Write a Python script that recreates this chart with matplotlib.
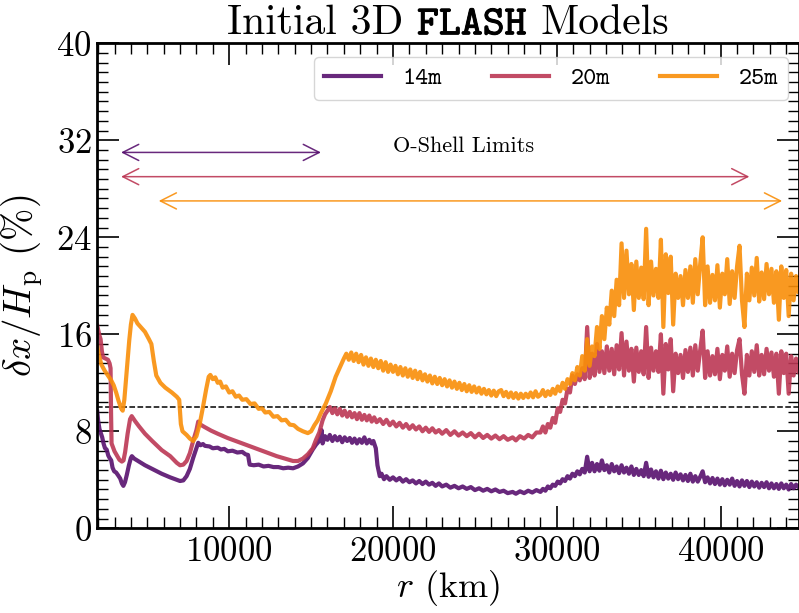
import matplotlib
matplotlib.use("Agg")
import matplotlib.pyplot as plt
import matplotlib.patheffects as pe
from matplotlib.ticker import AutoMinorLocator, MultipleLocator
from matplotlib.offsetbox import TextArea, HPacker, AnchoredOffsetbox

plt.rcParams.update({
    "font.family": "cmr10",
    "mathtext.fontset": "cm",
    "axes.unicode_minus": False,
    "axes.formatter.use_mathtext": True,
})

# ---------------------------------------------------------------------------
# Resolution (percent of pressure scale height) vs radius, per progenitor
# ---------------------------------------------------------------------------
labels = ["14m", "20m", "25m"]

# shared radial samples across the outer, noisy part of the shell (km)
r_tail = [29000, 29150, 29300, 29450, 29600, 29750, 29900, 30050, 30200, 30350,
          30500, 30650, 30800, 30950, 31100, 31250, 31400, 31550, 31700, 31850,
          32000, 32150, 32300, 32450, 32600, 32750, 32900, 33050, 33200, 33350,
          33500, 33650, 33800, 33950, 34100, 34250, 34400, 34550, 34700, 34850,
          35000, 35150, 35300, 35450, 35600, 35750, 35900, 36050, 36200, 36350,
          36500, 36650, 36800, 36950, 37100, 37250, 37400, 37550, 37700, 37850,
          38000, 38150, 38300, 38450, 38600, 38750, 38900, 39050, 39200, 39350,
          39500, 39650, 39800, 39950, 40100, 40250, 40400, 40550, 40700, 40850,
          41000, 41150, 41300, 41450, 41600, 41750, 41900, 42050, 42200, 42350,
          42500, 42650, 42800, 42950, 43100, 43250, 43400, 43550, 43700, 43850,
          44000, 44150, 44300, 44450, 44600, 44750]

# 14 M_sun model
r14_inner = [1950, 2000, 2080, 2150, 2250, 2330, 2420, 2520, 2620, 2700, 2800, 2880,
             2980, 3100, 3230, 3350, 3450, 3540, 3640, 3750, 3880, 4000, 4060, 4200,
             4500, 4860, 5300, 5880, 6400, 6800, 7000, 7200, 7400, 7600, 7800, 8000,
             8110, 8250, 8400, 8520, 8800, 9000, 9300, 9500, 9700, 9920, 10200, 10500,
             10800, 11000, 11150, 11250, 11500, 11800, 12100, 12400, 12700, 13000,
             13300, 13600, 13900, 14200, 14500, 14800, 15100, 15300, 15430, 15550,
             15640, 15700, 15850, 16000, 16140, 16300, 16450, 16600, 16750, 16900,
             17050, 17200, 17360, 17500, 17650, 17800, 17950, 18100, 18250, 18400,
             18550, 18700, 18800, 18950, 19050, 19190, 19300, 19450, 19600, 19800,
             20000, 20200, 20400, 20600, 20800, 21000, 21200, 21400, 21600, 21800,
             22000, 22200, 22400, 22600, 22800, 23000, 23250, 23500, 23750, 24000,
             24250, 24500, 24750, 25000, 25250, 25500, 25750, 26000, 26250, 26500,
             26750, 27000, 27300, 27500, 27750, 28000, 28250, 28500, 28750]
dx14_inner = [9.6, 8.9, 8.2, 7.9, 7.5, 7.0, 6.6, 6.5, 6.0, 5.8, 5.6, 5.0,
              4.7, 4.6, 4.35, 4.1, 3.7, 3.5, 3.8, 4.4, 5.2, 5.8, 5.95, 5.75,
              5.5, 5.2, 4.9, 4.5, 4.2, 4.0, 3.9, 3.95, 4.3, 4.9, 5.8, 6.6,
              7.05, 6.85, 6.95, 6.8, 6.75, 6.6, 6.65, 6.5, 6.55, 6.35, 6.4, 6.25,
              6.3, 6.1, 6.05, 5.25, 5.2, 5.25, 5.1, 5.15, 5.05, 5.05,
              4.95, 5.0, 4.95, 5.1, 5.35, 5.8, 6.5, 6.9, 7.1, 7.4,
              8.1, 7.0, 7.6, 7.3, 7.7, 7.2, 7.6, 7.25, 7.55, 7.1,
              7.5, 7.2, 7.45, 7.05, 7.4, 7.0, 7.35, 7.05, 7.5, 7.0,
              7.3, 7.0, 7.2, 6.6, 5.2, 4.3, 4.5, 4.05, 4.3, 4.0,
              4.2, 3.95, 4.15, 3.85, 4.05, 3.8, 3.95, 3.7, 3.9, 3.65,
              3.85, 3.6, 3.75, 3.5, 3.7, 3.45, 3.6, 3.35, 3.5, 3.3,
              3.45, 3.25, 3.4, 3.15, 3.3, 3.1, 3.25, 3.05, 3.2, 3.0,
              3.1, 2.9, 3.0, 2.85, 3.05, 2.9, 3.1, 2.95, 3.15]
dx14_tail = [3.0, 3.25, 3.1, 3.45, 3.3, 3.6, 3.5, 3.85, 3.7, 4.05,
             3.9, 4.3, 4.1, 4.5, 4.3, 4.7, 4.45, 4.9, 4.6, 5.9,
             4.7, 5.4, 4.7, 5.3, 4.75, 5.6, 4.8, 5.2, 4.6, 5.3,
             4.7, 5.1, 4.55, 5.2, 4.6, 5.0, 4.5, 5.1, 4.4, 4.9,
             4.4, 4.8, 4.3, 5.4, 4.25, 4.85, 4.2, 4.7, 4.1, 4.75,
             4.05, 4.6, 4.1, 4.5, 4.0, 4.6, 4.05, 4.45, 3.95, 4.4,
             3.9, 4.5, 3.85, 4.3, 3.85, 4.25, 4.7, 3.8, 4.2, 3.7,
             4.15, 3.65, 4.1, 3.6, 4.05, 3.55, 4.0, 3.6, 4.1, 3.5,
             3.9, 3.45, 3.95, 3.5, 3.9, 3.4, 3.85, 3.45, 3.8, 3.35,
             3.75, 3.4, 3.8, 3.3, 3.7, 3.3, 3.65, 3.25, 3.7, 3.3,
             3.6, 3.2, 3.65, 3.3, 3.6, 3.4]

# 20 M_sun model
r20_inner = [1950, 2000, 2080, 2150, 2230, 2300, 2450, 2600, 2700, 2760, 2790, 2820,
             2900, 3000, 3150, 3300, 3450, 3550, 3650, 3800, 3950, 4050, 4250, 4500,
             4860, 5300, 5880, 6400, 6800, 7000, 7200, 7400, 7600, 7800, 8000, 8110,
             8250, 8500, 8900, 9300, 9900, 10400, 10900, 11400, 11900, 12400, 12900,
             13400, 13900, 14200, 14500, 14800, 15100, 15300, 15500, 15700, 15850,
             16000, 16150, 16300, 16450, 16600, 16750, 16900, 17050, 17200, 17360,
             17500, 17650, 17800, 17950, 18100, 18250, 18400, 18550, 18700, 18850,
             19000, 19200, 19400, 19600, 19800, 20000, 20200, 20400, 20600, 20800,
             21000, 21200, 21400, 21600, 21800, 22000, 22200, 22400, 22600, 22800,
             23000, 23250, 23500, 23750, 24000, 24250, 24500, 24750, 25000, 25250,
             25500, 25750, 26000, 26250, 26500, 26750, 27000, 27300, 27500, 27750,
             28000, 28250, 28500, 28750]
dx20_inner = [16.7, 16.4, 15.9, 15.6, 14.6, 14.1, 14.0, 13.9, 13.6, 13.2, 9.5, 7.0,
              6.7, 6.35, 6.0, 5.65, 5.5, 5.6, 6.3, 7.8, 9.0, 9.25, 8.85, 8.4,
              7.8, 7.2, 6.45, 5.95, 5.4, 5.2, 5.25, 5.55, 6.2, 7.2, 8.1, 8.8,
              8.55, 8.35, 8.05, 7.8, 7.45, 7.2, 6.95, 6.7, 6.45, 6.2, 5.95,
              5.75, 5.55, 5.55, 5.75, 6.1, 6.6, 7.3, 7.9, 8.9, 9.4,
              9.7, 10.0, 9.5, 9.9, 9.4, 9.85, 9.3, 9.7, 9.2, 9.6,
              9.15, 9.5, 9.0, 9.5, 8.95, 9.35, 8.9, 9.3, 8.8, 9.15,
              8.75, 9.0, 8.6, 8.95, 8.5, 8.8, 8.4, 8.7, 8.3, 8.6,
              8.2, 8.5, 8.15, 8.4, 8.0, 8.3, 7.95, 8.25, 7.9, 8.1,
              7.8, 8.1, 7.7, 8.0, 7.65, 7.9, 7.6, 7.85, 7.5, 7.8,
              7.45, 7.7, 7.4, 7.65, 7.35, 7.6, 7.3, 7.5, 7.25, 7.6,
              7.4, 7.7, 7.5, 7.9]
dx20_tail = [7.9, 8.4, 7.9, 8.6, 8.3, 9.1, 8.7, 9.9, 9.6, 10.6,
             10.3, 11.5, 11.2, 12.6, 11.9, 12.7, 12.2, 13.2, 12.3, 16.6,
             12.4, 14.4, 12.6, 15.2, 12.9, 14.6, 12.8, 15.0, 13.0, 14.8,
             12.7, 15.1, 13.1, 16.1, 12.6, 15.4, 13.0, 14.8, 12.1, 14.9,
             12.9, 14.6, 12.7, 16.6, 12.4, 14.9, 13.0, 14.6, 12.9, 16.0,
             11.1, 15.2, 13.1, 15.6, 11.3, 14.4, 12.8, 14.3, 12.4, 14.7,
             12.9, 14.9, 12.6, 15.1, 13.0, 14.7, 16.3, 12.4, 14.6, 12.6,
             14.2, 12.7, 14.8, 12.3, 14.3, 13.0, 15.0, 12.5, 14.4, 12.8,
             14.7, 15.6, 12.7, 11.1, 14.3, 12.6, 14.6, 12.9, 15.1, 12.6,
             14.3, 12.7, 14.8, 13.0, 14.5, 12.5, 14.4, 11.1, 14.6, 12.8,
             14.4, 11.1, 14.2, 12.6, 14.0, 12.9]

# 25 M_sun model
r25_inner = [1950, 2000, 2100, 2200, 2400, 2600, 2800, 2950, 3100, 3250, 3400, 3500,
             3600, 3750, 3900, 4000, 4100, 4250, 4400, 4600, 4860, 5100, 5250, 5400,
             5550, 5800, 6100, 6500, 6800, 6950, 7050, 7150, 7400, 7600, 7800, 8000,
             8200, 8400, 8600, 8750, 8850, 9000, 9150, 9300, 9450, 9600, 9800, 10000,
             10200, 10400, 10600, 10800, 11050, 11300, 11550, 11800, 12000, 12200,
             12450, 12700, 12950, 13200, 13450, 13700, 13950, 14200, 14500, 14800,
             15000, 15200, 15400, 15600, 15900, 16200, 16500, 16800, 17000, 17150,
             17300, 17450, 17600, 17750, 17900, 18050, 18200, 18350, 18500, 18650,
             18800, 18950, 19100, 19250, 19400, 19550, 19700, 19850, 20000, 20150,
             20300, 20450, 20600, 20750, 20900, 21050, 21200, 21350, 21500, 21650,
             21800, 21950, 22100, 22250, 22400, 22550, 22700, 22850, 23000, 23150,
             23300, 23450, 23600, 23750, 23900, 24050, 24200, 24350, 24500, 24650,
             24800, 24950, 25100, 25250, 25400, 25550, 25700, 25850, 26000, 26150,
             26300, 26450, 26600, 26750, 26900, 27050, 27200, 27350, 27500, 27650,
             27800, 27950, 28100, 28250, 28400, 28550, 28700, 28850]
dx25_inner = [15.0, 14.6, 14.0, 13.5, 13.0, 12.6, 12.2, 11.8, 11.2, 10.5, 9.9, 9.7,
              10.6, 13.0, 15.5, 16.8, 17.6, 17.3, 16.9, 16.6, 16.2, 15.6, 15.2, 13.8,
              12.6, 12.0, 11.6, 11.2, 10.85, 10.6, 8.6, 8.0, 7.7, 7.4, 7.2, 7.6,
              8.6, 10.0, 11.5, 12.5, 12.65, 12.3, 12.45, 12.0, 12.1, 11.6, 11.7, 11.2,
              11.3, 10.85, 10.95, 10.6, 10.65, 10.25, 10.3, 9.85, 9.9, 9.55,
              9.6, 9.2, 9.25, 8.9, 8.95, 8.55, 8.5, 8.2, 8.0, 7.85,
              8.0, 8.5, 8.9, 9.5, 10.3, 11.3, 12.5, 13.4, 14.0, 14.4,
              13.9, 14.5, 13.8, 14.4, 13.7, 14.3, 13.5, 14.1, 13.4, 14.0,
              13.3, 13.9, 13.2, 13.8, 13.0, 13.7, 12.9, 13.5, 12.9, 13.4,
              12.7, 13.3, 12.6, 13.2, 12.5, 13.1, 12.4, 13.0, 12.3, 12.9,
              12.2, 12.7, 12.1, 12.6, 11.95, 12.5, 11.9, 12.4, 11.8, 12.3,
              11.7, 12.2, 11.6, 12.1, 11.5, 12.0, 11.4, 11.9, 11.3, 11.8,
              11.25, 11.7, 11.2, 11.6, 11.1, 11.5, 11.05, 11.4, 10.95, 11.35,
              10.9, 11.3, 11.4, 10.9, 11.25, 10.8, 11.2, 10.75, 11.15, 10.7,
              11.1, 10.75, 11.1, 10.8, 11.2, 10.8, 11.3, 10.85]
dx25_tail = [11.0, 11.4, 10.9, 11.3, 11.0, 11.5, 11.1, 11.7, 11.3, 12.0,
             11.5, 12.3, 11.9, 12.8, 12.2, 13.3, 12.6, 14.2, 13.0, 15.6,
             13.4, 15.0, 14.2, 16.6, 14.8, 17.5, 15.6, 18.2, 16.8, 19.6,
             17.5, 20.5, 18.4, 23.5, 19.0, 22.9, 19.3, 21.8, 18.0, 22.0,
             19.0, 21.5, 18.9, 24.7, 18.4, 22.0, 19.2, 21.4, 19.0, 23.8,
             16.6, 22.6, 19.4, 22.4, 16.8, 21.0, 19.0, 20.8, 18.4, 21.3,
             19.0, 21.6, 18.6, 22.2, 19.3, 21.8, 24.0, 18.4, 21.6, 18.6,
             20.9, 18.8, 21.7, 18.2, 21.0, 19.3, 22.2, 18.5, 21.2, 19.0,
             21.6, 23.3, 18.8, 16.6, 21.0, 18.8, 21.5, 19.2, 22.3, 18.7,
             21.1, 18.9, 21.8, 19.3, 21.4, 18.6, 21.2, 17.2, 21.6, 19.0,
             21.3, 17.5, 21.0, 18.8, 20.8, 19.5]

r_series = [r14_inner + r_tail, r20_inner + r_tail, r25_inner + r_tail]
dx_series = [dx14_inner + dx14_tail, dx20_inner + dx20_tail, dx25_inner + dx25_tail]

# O-shell radial extent of each model (km) and the height the bracket is drawn at
shell_inner = [3400, 3400, 5700]
shell_outer = [15600, 41750, 43750]
shell_level = [31, 29, 27]

resolution_threshold = 10.0

# ---------------------------------------------------------------------------
cmap = matplotlib.colormaps["inferno"]
colors = [cmap(0.25), cmap(0.5), cmap(0.75)]

fig = plt.figure(figsize=(7.99, 6.13), dpi=100)
ax = fig.add_axes([0.12178, 0.13818, 0.87760, 0.79119])

ax.axhline(resolution_threshold, color="black", ls="--", lw=1.1, zorder=1)

for r, dx, c, lab in zip(r_series, dx_series, colors, labels):
    ax.plot(r, dx, color=c, lw=3.0, alpha=0.9, label=lab, zorder=2)

for lo, hi, lev, c in zip(shell_inner, shell_outer, shell_level, colors):
    ax.annotate("", xy=(hi, lev), xytext=(lo, lev),
                arrowprops=dict(arrowstyle="<->,head_length=1.15,head_width=0.58",
                                color=c, lw=1.1, alpha=0.9, mutation_scale=10,
                                shrinkA=0, shrinkB=0))
ax.text(20000, 31, "O-Shell Limits", fontsize=16, ha="left", va="baseline")

ax.set_xlim(1950, 44750)
ax.set_ylim(0, 40)
ax.yaxis.set_major_locator(MultipleLocator(8))
ax.xaxis.set_major_locator(MultipleLocator(10000))
ax.xaxis.set_minor_locator(AutoMinorLocator(10))
ax.yaxis.set_minor_locator(AutoMinorLocator(10))
ax.tick_params(which="both", direction="in", top=True, right=True, labelsize=25)
ax.tick_params(which="major", length=16, width=1.2)
ax.tick_params(which="minor", length=8, width=1.0)
ax.tick_params(axis="x", which="major", pad=6)
ax.tick_params(axis="y", which="major", pad=4)
for sp in ax.spines.values():
    sp.set_linewidth(2.0)

ax.set_xlabel(r"$r$ (km)", fontsize=26, labelpad=0)
ax.set_ylabel(r"$\delta x/H_{\rm p}$ (%)", fontsize=28, labelpad=8)

leg = ax.legend(loc="upper right", bbox_to_anchor=(0.985, 0.972), borderaxespad=0,
                ncol=3, prop={"family": "cmtt10", "size": 18},
                handlelength=2.3, handletextpad=0.85, columnspacing=2.0,
                fancybox=True, edgecolor="0.8", framealpha=0.8)
for h in leg.get_lines():
    h.set_linewidth(3.0)

# title: roman text with a bold typewriter code name
bold_tt = [pe.withStroke(linewidth=0.7, foreground="black")]
title_parts = [
    TextArea("Initial 3D", textprops=dict(fontsize=30, family="cmr10")),
    TextArea("FLASH", textprops=dict(fontsize=30, family="cmtt10", path_effects=bold_tt)),
    TextArea("Models", textprops=dict(fontsize=30, family="cmr10")),
]
title_box = HPacker(children=title_parts, align="baseline", pad=0, sep=10)
anchored = AnchoredOffsetbox(loc="lower center", child=title_box, pad=0, borderpad=0,
                             bbox_to_anchor=(0.5, 1.0), bbox_transform=ax.transAxes,
                             frameon=False)
ax.add_artist(anchored)

fig.savefig("out.png", dpi=100)
